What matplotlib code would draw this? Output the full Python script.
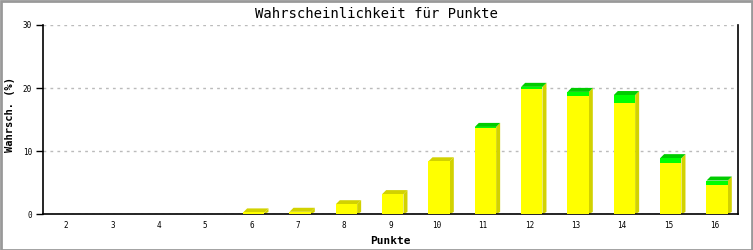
import numpy as np
import matplotlib
matplotlib.use("Agg")
import matplotlib.pyplot as plt
from matplotlib.patches import Polygon, Rectangle

# Daten
punkte = [2, 3, 4, 5, 6, 7, 8, 9, 10, 11, 12, 13, 14, 15, 16]
gelb = [0, 0, 0, 0, 0.3, 0.4, 1.6, 3.2, 8.4, 13.7, 19.8, 18.7, 17.6, 8.1, 4.65]
gruen = [0, 0, 0, 0, 0, 0, 0, 0, 0, 0.15, 0.4, 0.7, 1.3, 0.8, 0.7]
y_ticks = [0, 10, 20, 30]

W, H = 753, 250
fig = plt.figure(figsize=(W / 100, H / 100), dpi=100)
ax = fig.add_axes([43 / W, 1 - 214.3 / H, (738 - 43) / W, (214.3 - 25) / H])

x = np.arange(len(punkte))
breite = 0.46
versatz = 0.05
ax.set_xlim(-0.5, len(punkte) - 0.5)
ax.set_ylim(0, 30)

# Tiefe der 3D-Balken in Pixeln -> Dateneinheiten
tiefe_px = 4
dx = tiefe_px * (len(punkte)) / (738 - 43)
dy = tiefe_px * 30 / (214.3 - 25)

gelb = np.array(gelb)
gruen = np.array(gruen)
gesamt = gelb + gruen

for xi, g, s in zip(x, gelb, gesamt):
    if s <= 0:
        continue
    l = xi - breite / 2 + versatz
    r = l + breite
    # Seitenflaeche
    ax.add_patch(Polygon([(r, 0), (r + dx, dy * 0.6), (r + dx, s + dy), (r, s)],
                         closed=True, facecolor="#d2d200", edgecolor="none", zorder=2))
    # Deckflaeche
    top_col = "#00cc00" if s > g else "#d2d200"
    ax.add_patch(Polygon([(l, s), (l + dx, s + dy), (r + dx, s + dy), (r, s)],
                         closed=True, facecolor=top_col, edgecolor="none", zorder=2))

ax.bar(x + versatz, gelb, width=breite, color="#ffff00", zorder=3, linewidth=0)
ax.bar(x + versatz, gruen, width=breite, bottom=gelb, color="#00ff00", zorder=3, linewidth=0)

mono = "DejaVu Sans Mono"
ax.set_xticks(x)
ax.set_xticklabels([str(p) for p in punkte], fontsize=5.5, family=mono)
ax.set_yticks(y_ticks)
ax.set_yticklabels([str(t) for t in y_ticks], fontsize=5.5, family=mono)
ax.tick_params(axis="x", length=0, pad=5)
ax.tick_params(axis="y", length=5, width=1, pad=3)

ax.grid(axis="y", color="#bbbbbb", linestyle=(0, (2, 3)), linewidth=1, zorder=0)
ax.set_axisbelow(True)
ax.spines["top"].set_visible(False)
for sp in ["left", "bottom", "right"]:
    ax.spines[sp].set_linewidth(1.2)
ax.spines["right"].set_bounds(0, 30)

fig.text(376 / W, 1 - 18 / H, "Wahrscheinlichkeit für Punkte", family=mono, fontsize=10,
         ha="center", va="baseline")
ax.set_xlabel("Punkte", family=mono, fontsize=8, fontweight="bold", labelpad=4)
fig.text(10 / W, 1 - 115 / H, "Wahrsch. (%)", family=mono, fontsize=7.5, fontweight="bold",
         rotation=90, ha="center", va="center")

# grauer Rahmen ums Bild
fig.patches.append(Rectangle((0.5 / W, 0.5 / H), 1 - 1.5 / W, 1 - 1.5 / H, transform=fig.transFigure,
                             fill=False, edgecolor="#999999", linewidth=2))

fig.savefig("out.png", dpi=100)
